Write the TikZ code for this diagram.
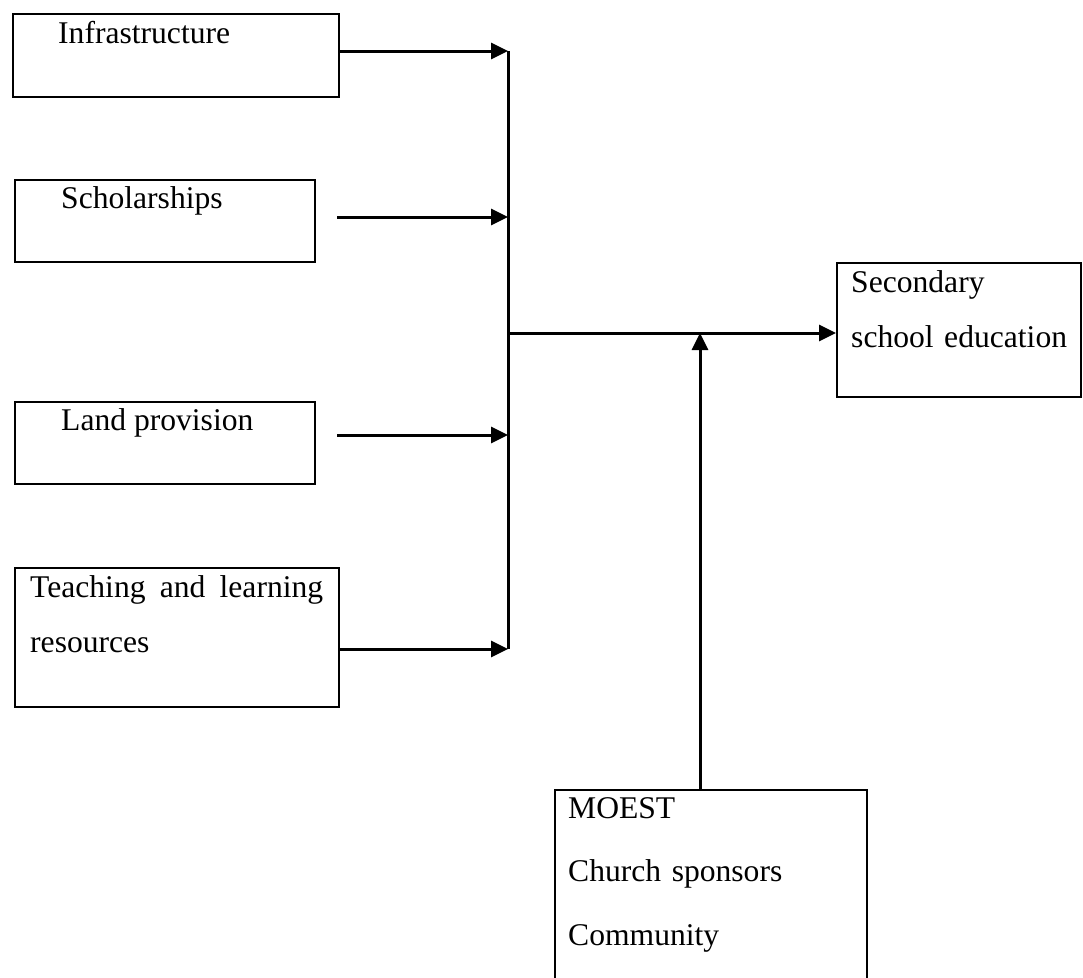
\documentclass[tikz,border=0pt]{standalone}
\usepackage{fontspec}
\setmainfont{Liberation Serif}
\usetikzlibrary{arrows.meta}

\begin{document}
\begin{tikzpicture}[x=1pt, y=-1pt,
		box/.style={draw, black, line width=2pt, inner sep=0pt, anchor=north west},
		txt/.style={anchor=base west, inner sep=0pt, align=left, font=\fontsize{31.6}{55}\selectfont},
		arr/.style={-{Triangle[length=17pt, width=16pt]}, black, line width=3pt}]
		\useasboundingbox (0, 0) rectangle (1083, 977);
		\clip (0, 0) rectangle (1083, 977);

		\node[box, minimum width=326pt, minimum height=83pt]	(infra) at (12, 13) {};
		\node[box, minimum width=300pt, minimum height=82pt]	(schol) at (14, 179) {};
		\node[box, minimum width=300pt, minimum height=82pt]	(land) at (14, 401) {};
		\node[box, minimum width=324pt, minimum height=139pt]	(teach) at (14, 567) {};
		\node[box, minimum width=244pt, minimum height=134pt]	(second) at (836, 262) {};
		\node[box, minimum width=312pt, minimum height=230pt]	(moest) at (554, 789) {};

		\node[txt]	(tinfra) at (58, 43) {Infrastructure};
		\node[txt]	(tschol) at (61, 208) {Scholarships};
		\node[txt]	(tland) at (61, 430) {Land provision};
		\node[txt, text width=293pt]	(tteach) at (30, 597) {Teaching\hfill and\hfill learning\\resources};
		\node[txt, text width=222pt]	(tsec) at (851, 292) {Secondary\\school education};
		\node[txt, text width=290pt, font=\fontsize{31.6}{63.5}\selectfont]	(tmoest) at (568, 818) {MOEST\\Church sponsors\\Community};

		\coordinate (j1) at (508, 51);
		\coordinate (j4) at (508, 649);
		\coordinate (jm) at (508, 333);
		\coordinate (s2) at (337, 217);
		\coordinate (s3) at (337, 435);
		\coordinate (up) at (700, 333);

		\draw[arr]	(infra.east |- j1) to (j1);
		\draw[arr]	(s2) to (s2 -| j1);
		\draw[arr]	(s3) to (s3 -| j1);
		\draw[arr]	(teach.east |- j4) to (j4);
		\draw[black, line width=3pt]	(j1) to (j4);

		\draw[arr]	(jm) to (jm -| second.west);
		\draw[arr]	(up |- moest.north) to (up);
	\end{tikzpicture}
\end{document}
